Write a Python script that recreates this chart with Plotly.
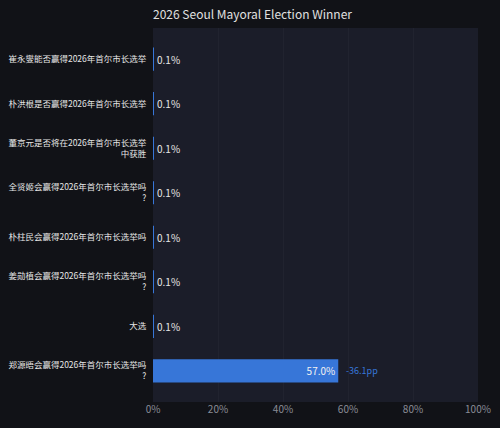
import plotly.graph_objects as go

categories = [
    "崔永燮能否赢得2026年首尔市长选举",
    "朴洪根是否赢得2026年首尔市长选举",
    "董京元是否将在2026年首尔市长选举<br>中获胜",
    "全贤姬会赢得2026年首尔市长选举吗<br>?",
    "朴柱民会赢得2026年首尔市长选举吗",
    "姜勋植会赢得2026年首尔市长选举吗<br>?",
    "大选",
    "郑源晤会赢得2026年首尔市长选举吗<br>?",
]
values = [0.1, 0.1, 0.1, 0.1, 0.1, 0.1, 0.1, 57.0]
changes = [None, None, None, None, None, None, None, "-36.1pp"]
x_ticks = [0, 20, 40, 60, 80, 100]
x_tick_labels = ["0%", "20%", "40%", "60%", "80%", "100%"]

FONT = "Noto Sans CJK SC, Noto Sans, sans-serif"
BLUE = "#3776d8"

texts = [f"{v:.1f}%" for v in values]
positions = ["inside" if v > 10 else "outside" for v in values]

fig = go.Figure()
fig.add_trace(go.Bar(
    x=values,
    y=categories,
    orientation="h",
    marker=dict(color=BLUE, line=dict(width=0)),
    width=0.52,
    text=texts,
    textposition=positions,
    insidetextanchor="end",
    textfont=dict(color="#f2f2f2", size=10, family=FONT),
    outsidetextfont=dict(color="#e6e6e6", size=10, family=FONT),
    cliponaxis=False,
    hoverinfo="skip",
))

for cat, v, ch in zip(categories, values, changes):
    if ch:
        fig.add_annotation(
            x=v, y=cat, text=ch, showarrow=False, xanchor="left",
            xshift=6, font=dict(color=BLUE, size=9, family=FONT),
        )

n = len(categories)
fig.update_layout(
    width=500, height=428,
    paper_bgcolor="#111217",
    plot_bgcolor="#1b1d29",
    margin=dict(l=153, r=22, t=28, b=26, autoexpand=False),
    title=dict(text="2026 Seoul Mayoral Election Winner", x=153/500, xanchor="left",
               y=1 - 15/428, yanchor="middle",
               font=dict(size=12, color="#e0e0e0", family=FONT)),
    showlegend=False,
    xaxis=dict(range=[0, 100], tickvals=x_ticks, ticktext=x_tick_labels,
               showgrid=True, gridcolor="#21232f", gridwidth=1, zeroline=False,
               tickfont=dict(size=10, color="#8a8c96", family=FONT),
               fixedrange=True, showline=False, automargin=False),
    yaxis=dict(type="category", range=[n - 1 + 0.7, -0.7], autorange=False,
               showgrid=False, zeroline=False, automargin=False,
               tickfont=dict(size=8.5, color="#e6e6e6", family=FONT),
               ticks="outside", ticklen=4, tickcolor="rgba(0,0,0,0)"),
    font=dict(family=FONT),
)

fig.write_html("out.html")
